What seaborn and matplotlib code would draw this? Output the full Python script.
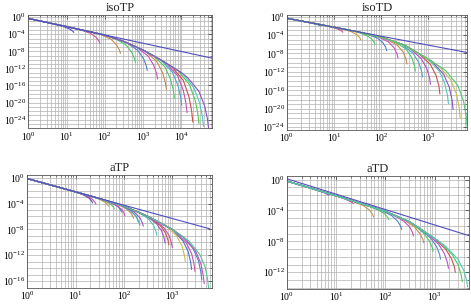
import numpy as np
import pandas as pd
import matplotlib
matplotlib.use("Agg")
import matplotlib.pyplot as plt
import matplotlib.ticker as mticker
from matplotlib.colors import hsv_to_rgb
import seaborn as sns

# All values are log10(x), log10(y).
# Each panel: a shared trunk (where all curves overlap), the tails where each
# curve peels off and drops, and the straight power-law reference line.

# ---------- isoTP ----------
isoTP_trunk_lx = [0, 0.5, 1, 1.5, 2, 2.5, 3, 3.5, 4, 4.5, 4.75]
isoTP_trunk_ly = [-0.3, -1.25, -2.2, -3.2, -4.2, -5.7, -7.7, -10.2, -13.0, -16.5, -18.5]
isoTP_tails = [
    [(0.64, -1.52), (0.94, -2.24), (1.09, -2.83), (1.16, -3.26), (1.19, -3.57)],
    [(1.32, -2.84), (1.62, -3.76), (1.77, -4.71), (1.84, -5.50), (1.87, -6.1)],
    [(1.86, -3.92), (2.16, -5.14), (2.31, -6.51), (2.38, -7.64), (2.41, -8.5)],
    [(2.25, -4.95), (2.55, -6.46), (2.70, -8.17), (2.77, -9.56), (2.80, -10.6)],
    [(2.56, -5.94), (2.86, -7.78), (3.01, -9.66), (3.08, -11.29), (3.11, -12.5)],
    [(2.83, -7.02), (3.13, -9.09), (3.28, -11.3), (3.35, -13.13), (3.38, -14.5)],
    [(3.06, -8.0), (3.36, -10.41), (3.51, -13.0), (3.58, -15.21), (3.61, -16.9)],
    [(3.27, -9.05), (3.57, -11.64), (3.72, -14.58), (3.79, -17.07), (3.82, -19.0)],
    [(3.46, -10.0), (3.76, -12.8), (3.91, -15.93), (3.98, -18.61), (4.01, -20.7)],
    [(3.60, -10.76), (3.90, -13.69), (4.05, -17.11), (4.12, -20.1), (4.15, -22.4)],
    [(3.75, -11.6), (4.05, -14.78), (4.20, -18.68), (4.27, -22.02), (4.30, -24.6)],
    [(3.91, -12.5), (4.21, -15.77), (4.36, -19.43), (4.43, -22.52), (4.46, -24.9)],
    [(4.03, -13.21), (4.33, -16.58), (4.48, -20.17), (4.55, -23.25), (4.58, -25.6)],
    [(4.16, -14.12), (4.46, -17.38), (4.61, -20.85), (4.68, -23.73), (4.71, -25.9)],
]
isoTP_line = [(0, -0.3), (4.8, -9.6)]
isoTP_hues = [0.67, 0.9, 0.08, 0.37, 0.6, 0.85, 0.08, 0.37, 0.55, 0.86, 0.0, 0.33, 0.5, 0.75]

# ---------- isoTD ----------
isoTD_trunk_lx = [0, 1, 1.5, 2, 2.5, 3, 3.3, 3.6, 3.9]
isoTD_trunk_ly = [-0.36, -2.3, -3.3, -4.45, -6.2, -9.2, -11.2, -13.4, -15.7]
isoTD_tails = [
    [(0.27, -0.88), (0.52, -1.41), (0.64, -1.70), (0.70, -1.90), (0.72, -2.0)],
    [(0.74, -1.8), (0.99, -2.39), (1.11, -2.82), (1.17, -3.18), (1.19, -3.4)],
    [(1.12, -2.54), (1.37, -3.28), (1.49, -3.95), (1.55, -4.62), (1.57, -5.06)],
    [(1.42, -3.14), (1.67, -3.97), (1.79, -4.75), (1.85, -5.50), (1.87, -6.0)],
    [(1.67, -3.69), (1.92, -4.65), (2.04, -5.65), (2.10, -6.70), (2.12, -7.4)],
    [(1.91, -4.24), (2.16, -5.50), (2.28, -6.81), (2.34, -8.11), (2.36, -9.0)],
    [(2.10, -4.8), (2.35, -6.25), (2.47, -7.70), (2.53, -9.23), (2.55, -10.3)],
    [(2.28, -5.43), (2.53, -7.02), (2.65, -8.89), (2.71, -10.66), (2.73, -11.85)],
    [(2.43, -5.96), (2.68, -7.97), (2.80, -9.94), (2.86, -11.83), (2.88, -13.1)],
    [(2.60, -6.8), (2.85, -9.08), (2.97, -11.19), (3.03, -13.28), (3.05, -14.7)],
    [(2.80, -8.0), (3.05, -10.42), (3.17, -12.82), (3.23, -15.18), (3.25, -16.8)],
    [(2.98, -9.08), (3.23, -11.73), (3.35, -14.38), (3.41, -17.04), (3.43, -18.85)],
    [(3.08, -9.73), (3.33, -12.52), (3.45, -15.37), (3.51, -18.22), (3.53, -20.2)],
    [(3.23, -10.73), (3.48, -13.72), (3.60, -16.76), (3.66, -19.85), (3.68, -22.0)],
    [(3.38, -11.79), (3.63, -14.96), (3.75, -18.26), (3.81, -21.64), (3.83, -24.0)],
]
isoTD_line = [(0, -0.36), (3.83, -7.8)]
isoTD_hues = [0.67, 0.9, 0.1, 0.37, 0.6, 0.85, 0.08, 0.37, 0.55, 0.8, 0.0, 0.47, 0.75, 0.15, 0.38]

# ---------- aTP ----------
aTP_trunk_lx = [0, 1, 1.5, 2, 2.5, 3, 3.4, 3.7, 3.85]
aTP_trunk_ly = [-0.15, -2.2, -3.25, -4.4, -6.0, -8.0, -10.1, -12.0, -13.0]
aTP_tails = [
    [(0.95, -2.1), (1.17, -2.70), (1.28, -3.19), (1.33, -3.61), (1.35, -3.9)],
    [(1.02, -2.24), (1.24, -2.85), (1.35, -3.37), (1.40, -3.81), (1.42, -4.1)],
    [(1.28, -2.79), (1.50, -3.36), (1.61, -3.81), (1.66, -4.18), (1.68, -4.4)],
    [(1.40, -3.04), (1.62, -3.66), (1.73, -4.14), (1.78, -4.54), (1.80, -4.8)],
    [(1.55, -3.37), (1.77, -4.02), (1.88, -4.54), (1.93, -5.0), (1.95, -5.3)],
    [(1.62, -3.53), (1.84, -4.25), (1.95, -4.89), (2.00, -5.48), (2.02, -5.9)],
    [(1.80, -3.94), (2.02, -4.65), (2.13, -5.35), (2.18, -5.93), (2.20, -6.3)],
    [(1.93, -4.24), (2.15, -5.17), (2.26, -6.04), (2.31, -6.85), (2.33, -7.4)],
    [(1.90, -4.17), (2.12, -5.01), (2.23, -5.79), (2.28, -6.46), (2.30, -6.9)],
    [(2.00, -4.4), (2.22, -5.37), (2.33, -6.22), (2.38, -6.99), (2.40, -7.5)],
    [(2.28, -5.3), (2.50, -6.33), (2.61, -7.36), (2.66, -8.28), (2.68, -8.9)],
    [(2.45, -5.84), (2.67, -7.09), (2.78, -8.25), (2.83, -9.35), (2.85, -10.1)],
    [(2.53, -6.12), (2.75, -7.40), (2.86, -8.57), (2.91, -9.65), (2.93, -10.4)],
    [(2.60, -6.4), (2.82, -7.70), (2.93, -8.90), (2.98, -10.02), (3.00, -10.8)],
    [(2.87, -7.48), (3.09, -9.01), (3.20, -10.55), (3.25, -12.0), (3.27, -13.0)],
    [(3.00, -8.0), (3.22, -9.78), (3.33, -11.45), (3.38, -13.08), (3.40, -14.2)],
    [(3.07, -8.37), (3.29, -10.11), (3.40, -11.76), (3.45, -13.39), (3.47, -14.5)],
    [(3.21, -9.1), (3.43, -10.95), (3.54, -12.83), (3.59, -14.58), (3.61, -15.8)],
    [(3.26, -9.37), (3.48, -11.31), (3.59, -13.25), (3.64, -15.11), (3.66, -16.4)],
    [(3.35, -9.84), (3.57, -11.88), (3.68, -13.83), (3.73, -15.7), (3.75, -17.0)],
]
aTP_line = [(0, -0.15), (3.77, -7.9)]
aTP_hues = [0.67, 0.9, 0.1, 0.37, 0.6, 0.85, 0.08, 0.37, 0.55, 0.78,
            0.47, 0.78, 0.0, 0.88, 0.15, 0.62, 0.88, 0.6, 0.85, 0.42]

# ---------- aTD ----------
aTD_trunk_lx = [0, 1, 2, 2.5, 3, 3.3, 3.5, 3.7]
aTD_trunk_ly = [-0.2, -2.1, -4.1, -5.5, -7.6, -9.0, -10.0, -11.2]
aTD_tails = [
    [(0.40, -0.96), (0.65, -1.47), (0.77, -1.74), (0.83, -1.92), (0.85, -2.0)],
    [(0.90, -1.91), (1.15, -2.45), (1.27, -2.77), (1.33, -2.99), (1.35, -3.1)],
    [(1.31, -2.72), (1.56, -3.40), (1.68, -3.97), (1.74, -4.50), (1.76, -4.84)],
    [(1.62, -3.34), (1.87, -3.98), (1.99, -4.46), (2.05, -4.92), (2.07, -5.2)],
    [(1.88, -3.86), (2.13, -4.67), (2.25, -5.40), (2.31, -6.04), (2.33, -6.45)],
    [(2.12, -4.44), (2.37, -5.37), (2.49, -6.10), (2.55, -6.84), (2.57, -7.3)],
    [(2.33, -5.02), (2.58, -6.07), (2.70, -6.98), (2.76, -7.73), (2.78, -8.2)],
    [(2.52, -5.58), (2.77, -6.90), (2.89, -7.91), (2.95, -8.76), (2.97, -9.3)],
    [(2.67, -6.21), (2.92, -7.58), (3.04, -8.69), (3.10, -9.67), (3.12, -10.3)],
    [(2.83, -6.89), (3.08, -8.36), (3.20, -9.62), (3.26, -10.75), (3.28, -11.5)],
    [(2.97, -7.47), (3.22, -8.99), (3.34, -10.21), (3.40, -11.30), (3.42, -12.0)],
    [(3.11, -8.11), (3.36, -9.73), (3.48, -11.09), (3.54, -12.37), (3.56, -13.2)],
    [(3.22, -8.63), (3.47, -10.28), (3.59, -11.75), (3.65, -13.06), (3.67, -13.9)],
]
aTD_line = [(0, 0.1), (3.69, -7.25)]
aTD_hues = [0.67, 0.9, 0.1, 0.37, 0.6, 0.85, 0.08, 0.37, 0.58, 0.82, 0.0, 0.35, 0.48]

line_color = hsv_to_rgb((0.67, 0.6, 0.75))

panels = [
    ("isoTP", isoTP_trunk_lx, isoTP_trunk_ly, isoTP_tails, isoTP_line, isoTP_hues,
     [0.060, 0.580, 0.390, 0.370], (0, 4.8), (-26, 0.45), 24),
    ("isoTD", isoTD_trunk_lx, isoTD_trunk_ly, isoTD_tails, isoTD_line, isoTD_hues,
     [0.609, 0.574, 0.383, 0.377], (0, 3.83), (-24.6, 0.36), 24),
    ("aTP", aTP_trunk_lx, aTP_trunk_ly, aTP_tails, aTP_line, aTP_hues,
     [0.058, 0.057, 0.393, 0.368], (0, 3.83), (-17.0, 0.35), 16),
    ("aTD", aTD_trunk_lx, aTD_trunk_ly, aTD_tails, aTD_line, aTD_hues,
     [0.609, 0.054, 0.386, 0.368], (0, 3.69), (-14.1, 0.42), 12),
]

sns.set_style("white")
plt.rcParams["font.family"] = ["Liberation Serif", "DejaVu Serif"]
plt.rcParams["mathtext.fontset"] = "stix"

fig = plt.figure(figsize=(4.71, 3.05), dpi=100)

for title, tlx, tly, tails, pline, hues, rect, xl, yl, ylow in panels:
    ax = fig.add_axes(rect)
    rows = []
    for i, tail in enumerate(tails):
        pts = [(a, b) for a, b in zip(tlx, tly) if a < tail[0][0]] + tail
        for a, b in pts:
            rows.append({"x": 10 ** a, "y": 10 ** b, "curve": i})
    df = pd.DataFrame(rows)
    pal = {i: hsv_to_rgb((hues[i], 0.6, 0.78)) for i in range(len(tails))}
    sns.lineplot(data=df, x="x", y="y", hue="curve", palette=pal, sort=False,
                 estimator=None, legend=False, linewidth=0.8, ax=ax)
    ax.plot([10 ** p[0] for p in pline], [10 ** p[1] for p in pline],
            color=line_color, lw=0.8)

    ax.set_xscale("log")
    ax.set_yscale("log")
    ax.set_xlim(10 ** xl[0], 10 ** xl[1])
    ax.set_ylim(10 ** yl[0], 10 ** yl[1])
    ax.set_xlabel("")
    ax.set_ylabel("")

    ax.xaxis.set_major_locator(mticker.LogLocator(base=10, numticks=20))
    ax.xaxis.set_minor_locator(mticker.LogLocator(base=10, subs=np.arange(2, 10), numticks=50))
    ax.xaxis.set_minor_formatter(mticker.NullFormatter())
    ax.yaxis.set_major_locator(mticker.FixedLocator([10.0 ** -k for k in range(0, ylow + 1, 4)]))
    ax.yaxis.set_minor_locator(mticker.FixedLocator([10.0 ** -k for k in range(0, 27)]))
    ax.yaxis.set_major_formatter(mticker.LogFormatterSciNotation())
    ax.yaxis.set_minor_formatter(mticker.NullFormatter())

    ax.grid(which="both", axis="both", color="#b0b0b0", lw=0.5)
    ax.set_axisbelow(True)
    ax.tick_params(which="both", direction="in", top=True, right=True,
                   labelsize=7, pad=1.5, colors="#333333", labelcolor="black")
    ax.tick_params(which="major", length=3, width=0.5)
    ax.tick_params(which="minor", length=1.5, width=0.4)
    for s in ax.spines.values():
        s.set_color("#555555")
        s.set_linewidth(0.6)
    ax.set_title(title, fontsize=9, pad=3)

fig.savefig("out.png", dpi=100)
